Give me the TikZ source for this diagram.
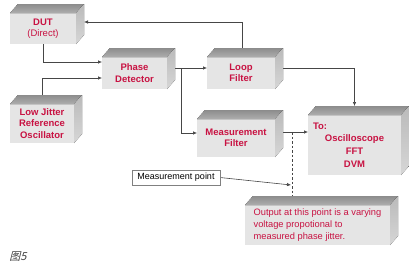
\documentclass[tikz,border=0pt]{standalone}
\usepackage{fontspec}
\setmainfont{Liberation Sans}
\newfontfamily\cjk[FakeSlant=0.25]{Noto Sans CJK SC}
\usetikzlibrary{arrows.meta,backgrounds}
\definecolor{facefront}{RGB}{229,229,229}
\definecolor{label}{RGB}{200,18,66}
\definecolor{wire}{RGB}{70,70,70}

\begin{document}
\begin{tikzpicture}[x=1pt,y=-1pt,
  blk/.style={fill=facefront,text=label,font=\fontsize{9.5}{11.5}\selectfont\bfseries,
    align=center,inner sep=0pt,outer sep=0pt},
  topface/.style={top color=black!45,bottom color=black!32},
  sideface/.style={top color=black!27,bottom color=black!16},
  ed/.style={-{Latex[length=4pt,width=3.5pt]},wire,line width=0.6pt},
  dsh/.style={wire,line width=0.8pt,dash pattern=on 2.5pt off 2pt},
  note/.style={draw=gray,fill=white,line width=0.5pt,font=\fontsize{9}{11}\selectfont,
    inner sep=0pt,outer sep=0pt}]
\useasboundingbox (0,0) rectangle (409,273);
\node[blk,minimum width=66pt,minimum height=31pt] (dut) at (43,28.5) {DUT\\\mdseries(Direct)};
\node[blk,minimum width=65pt,minimum height=32pt] (pd) at (134.5,73) {Phase\\Detector};
\node[blk,minimum width=64pt,minimum height=39pt] (ljo) at (42,123.5) {Low Jitter\\Reference\\Oscillator};
\node[blk,minimum width=68pt,minimum height=32pt] (lf) at (241,73) {Loop\\Filter};
\node[blk,minimum width=78pt,minimum height=38pt] (mf) at (236,138) {Measurement\\Filter};
\node[blk,minimum width=93pt,minimum height=60pt,font=\fontsize{9.5}{12.7}\selectfont\bfseries] (osc) at (354.5,145)
  {\makebox[83pt][l]{To:}\\Oscilloscope\\FFT\\DVM};
\node[blk,minimum width=145pt,minimum height=40pt,align=left,font=\fontsize{9.3}{12}\selectfont] (out) at (317.5,225)
  {Output at this point is a varying\\voltage propotional to\\measured phase jitter.};
\node[note,minimum width=88pt,minimum height=15pt] (mp) at (176,177.5) {Measurement point};
\node[font=\cjk\fontsize{11}{13}\selectfont,text=black!75] (fig) at (18,257) {图5};
% block depth
\foreach \b in {dut,pd,ljo,lf,mf,osc,out}{
  \fill[topface] (\b.north west) -- ++(8,-9) -- ([shift={(8pt,9pt)}]\b.north east) -- (\b.north east) -- cycle;
  \fill[sideface] (\b.north east) -- ++(8,-9) -- ([shift={(8pt,9pt)}]\b.south east) -- (\b.south east) -- cycle;
}
\begin{scope}[on background layer]
\draw[ed] ([xshift=1pt]lf.north) |- ([shift={(8pt,6.5pt)}]dut.east);
\draw[ed] (dut.south) |- ([yshift=11pt]pd.west);
\draw[ed] (ljo.north) |- ([yshift=-5pt]pd.west);
\draw[ed] ([yshift=5pt]pd.east) -- ([yshift=5pt]lf.west);
\draw[ed] ([shift={(14pt,5pt)}]pd.east) |- ([yshift=5pt]mf.west);
\draw[ed] ([yshift=5pt]lf.east) -| ([yshift=9pt]osc.north);
\coordinate (mfo) at ([shift={(8pt,6pt)}]mf.east);
\draw[ed] (mfo) -- (mfo -| osc.west);
\coordinate (tap) at ([xshift=9pt]mfo);
\draw[dsh] (tap) -- (tap |- out.north);
\coordinate (mpt) at (291,185);
\draw[ed] (mp.east) -- (mpt);
\end{scope}
\end{tikzpicture}
\end{document}
